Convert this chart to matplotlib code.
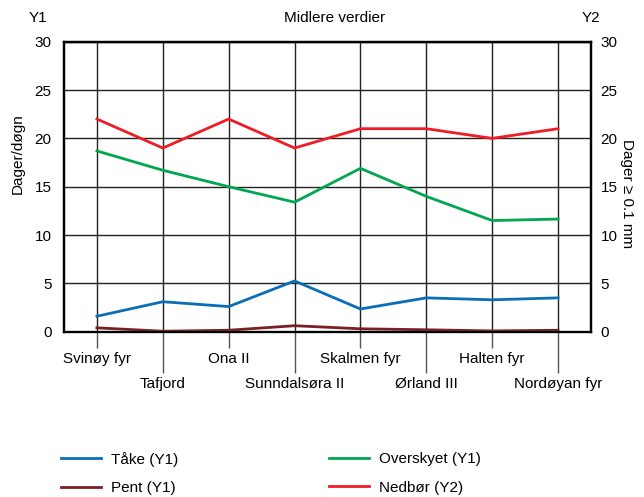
import matplotlib
matplotlib.use("Agg")
import matplotlib.pyplot as plt

plt.rcParams['font.family'] = ['Liberation Sans', 'DejaVu Sans']
plt.rcParams['font.size'] = 11

stations = ["Svinøy fyr", "Tafjord", "Ona II", "Sunndalsøra II",
            "Skalmen fyr", "Ørland III", "Halten fyr", "Nordøyan fyr"]
taake = [1.6, 3.1, 2.6, 5.25, 2.35, 3.5, 3.3, 3.5]
pent = [0.4, 0.05, 0.15, 0.62, 0.3, 0.2, 0.08, 0.15]
overskyet = [18.7, 16.7, 15.0, 13.4, 16.9, 14.0, 11.5, 11.65]
nedbor = [22, 19, 22, 19, 21, 21, 20, 21]

c_taake = "#0a6db7"
c_pent = "#7a1f22"
c_over = "#00a650"
c_ned = "#ee1c25"
fs = 11

fig = plt.figure(figsize=(6.44, 4.97), dpi=100)
ax = fig.add_axes([64 / 644, 1 - 331.7 / 497, 527 / 644, 290 / 497])
ax2 = ax.twinx()

x = list(range(len(stations)))
l1, = ax.plot(x, taake, color=c_taake, lw=2, label="Tåke (Y1)")
l2, = ax.plot(x, pent, color=c_pent, lw=2, label="Pent (Y1)")
l3, = ax.plot(x, overskyet, color=c_over, lw=2, label="Overskyet (Y1)")
l4, = ax2.plot(x, nedbor, color=c_ned, lw=2, label="Nedbør (Y2)")

for a in (ax, ax2):
    a.set_ylim(0, 30)
    a.set_xlim(-0.5, 7.5)
    a.set_yticks(range(0, 31, 5))
    a.tick_params(axis='y', length=0, labelsize=fs)
    for s in a.spines.values():
        s.set_linewidth(1.6)
        s.set_color("black")
ax.spines['bottom'].set_color("#6f8a80")
ax.tick_params(axis='y', pad=9)
ax2.tick_params(axis='y', pad=7)

# alternating label rows: even stations high, odd stations low
ax.set_xticks(x[0::2], stations[0::2])
ax.set_xticks(x[1::2], stations[1::2], minor=True)
ax.tick_params(axis='x', which='major', length=11.5, width=1, color="#555555", pad=3)
ax.tick_params(axis='x', which='minor', length=29.5, width=1, color="#555555", pad=3)
ax.tick_params(axis='x', which='both', labelsize=fs)

ax.grid(axis='x', which='both', color="#222222", lw=1)
ax.grid(axis='y', which='major', color="#222222", lw=1)
ax.set_axisbelow(True)

ax.set_ylabel("Dager/døgn", fontsize=fs, labelpad=7, y=0.615)
ax2.set_ylabel("Dager ≥ 0.1 mm", fontsize=fs, rotation=270, labelpad=12, y=0.475)

fig.text(38 / 644, 1 - 18 / 497, "Y1", ha='center', va='center', fontsize=fs)
fig.text(335 / 644, 1 - 18 / 497, "Midlere verdier", ha='center', va='center', fontsize=fs)
fig.text(591 / 644, 1 - 18 / 497, "Y2", ha='center', va='center', fontsize=fs)

fig.legend([l1, l2], [l1.get_label(), l2.get_label()], loc='center left',
           bbox_to_anchor=(61 / 644, 1 - 473.5 / 497), frameon=False,
           fontsize=fs, handlelength=2.6, handletextpad=0.65, labelspacing=0.95,
           borderaxespad=0, borderpad=0)
fig.legend([l3, l4], [l3.get_label(), l4.get_label()], loc='center left',
           bbox_to_anchor=(329 / 644, 1 - 473.5 / 497), frameon=False,
           fontsize=fs, handlelength=2.6, handletextpad=0.65, labelspacing=0.95,
           borderaxespad=0, borderpad=0)

fig.savefig("out.png", dpi=100)
